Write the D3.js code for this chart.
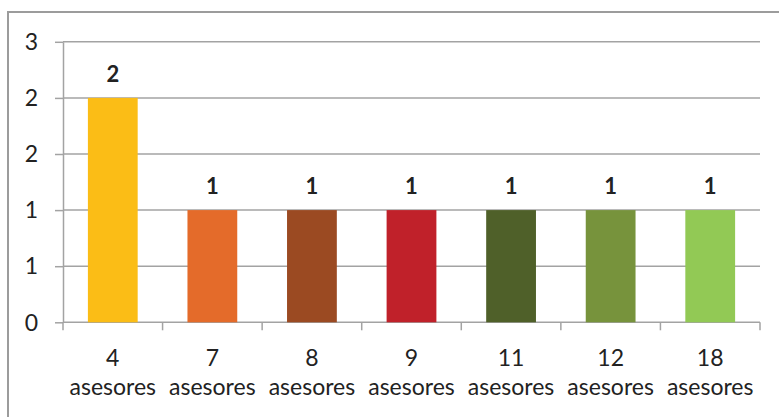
<!DOCTYPE html>
<html>
<head>
<meta charset="utf-8">
<script src="https://cdn.jsdelivr.net/npm/d3@7"></script>
<style>
  html, body { margin: 0; padding: 0; background: #ffffff; }
  svg { display: block; }
  text { font-family: Lato, "Open Sans", sans-serif; fill: #222; }
</style>
</head>
<body>
<svg id="chart" width="779" height="417"></svg>
<script>
// Advisor-count categories and how many cases fall in each
const categoryNumbers = ["4", "7", "8", "9", "11", "12", "18"];
const categoryUnit = "asesores";
const values = [2, 1, 1, 1, 1, 1, 1];
const barColors = ["#FBBD16", "#E46B2A", "#9B4A22", "#C0212A", "#4F6029", "#77933C", "#92C955"];
const yTickValues = [0, 0.5, 1, 1.5, 2, 2.5];
const yTickLabels = ["0", "1", "1", "2", "2", "3"];

const svg = d3.select("#chart");
const W = 779, H = 417;
const plot = { left: 63, right: 760, top: 41.8, bottom: 322.3 };
const gridColor = "#a3a3a3";

// outer frame
svg.append("rect")
  .attr("x", 8).attr("y", 12)
  .attr("width", W + 20).attr("height", H + 20)
  .attr("fill", "none").attr("stroke", "#9c9c9c").attr("stroke-width", 2);

const x = d3.scaleBand()
  .domain(categoryNumbers)
  .range([plot.left, plot.right])
  .paddingInner(0.5)
  .paddingOuter(0.25);

const y = d3.scaleLinear()
  .domain([0, 2.5])
  .range([plot.bottom, plot.top]);

// horizontal gridlines
svg.append("g").selectAll("line")
  .data(yTickValues.filter(v => v > 0))
  .join("line")
  .attr("x1", plot.left).attr("x2", plot.right)
  .attr("y1", d => y(d)).attr("y2", d => y(d))
  .attr("stroke", gridColor).attr("stroke-width", 1.5);

// y axis line and outward ticks
const yAxis = svg.append("g")
  .attr("transform", `translate(${plot.left},0)`)
  .call(d3.axisLeft(y)
    .tickValues(yTickValues)
    .tickFormat("")
    .tickSize(8)
    .tickSizeOuter(0));
yAxis.select(".domain").attr("stroke", gridColor).attr("stroke-width", 1.5);
yAxis.selectAll(".tick line").attr("stroke", gridColor).attr("stroke-width", 1.5);

// y tick labels
svg.append("g").selectAll("text")
  .data(yTickValues)
  .join("text")
  .attr("x", 38)
  .attr("y", d => y(d))
  .attr("dy", "0.36em")
  .attr("text-anchor", "end")
  .style("font-size", "23px")
  .text((d, i) => yTickLabels[i]);

// x axis: baseline plus ticks on the category boundaries
const step = x.step();
const boundaries = d3.range(categoryNumbers.length + 1)
  .map(i => plot.left + i * step);
svg.append("line")
  .attr("x1", plot.left).attr("x2", plot.right)
  .attr("y1", y(0)).attr("y2", y(0))
  .attr("stroke", gridColor).attr("stroke-width", 1.5);
svg.append("g").selectAll("line")
  .data(boundaries)
  .join("line")
  .attr("x1", d => d).attr("x2", d => d)
  .attr("y1", y(0)).attr("y2", y(0) + 8)
  .attr("stroke", gridColor).attr("stroke-width", 1.5);

// category labels (two lines each)
const xl = svg.append("g").selectAll("text")
  .data(categoryNumbers)
  .join("text")
  .attr("text-anchor", "middle")
  .attr("font-size", 23);
xl.append("tspan")
  .attr("x", d => x(d) + x.bandwidth() / 2)
  .attr("y", 366)
  .text(d => d);
xl.append("tspan")
  .attr("x", d => x(d) + x.bandwidth() / 2)
  .attr("y", 395)
  .text(categoryUnit);

// bars
svg.append("g").selectAll("rect")
  .data(values)
  .join("rect")
  .attr("x", (d, i) => x(categoryNumbers[i]))
  .attr("y", d => y(d))
  .attr("width", x.bandwidth())
  .attr("height", d => y(0) - y(d))
  .attr("fill", (d, i) => barColors[i]);

// value labels
svg.append("g").selectAll("text")
  .data(values)
  .join("text")
  .attr("x", (d, i) => x(categoryNumbers[i]) + x.bandwidth() / 2)
  .attr("y", d => y(d) - 16)
  .attr("text-anchor", "middle")
  .attr("font-size", 22)
  .attr("font-weight", "bold")
  .text(d => d);
</script>
</body>
</html>
